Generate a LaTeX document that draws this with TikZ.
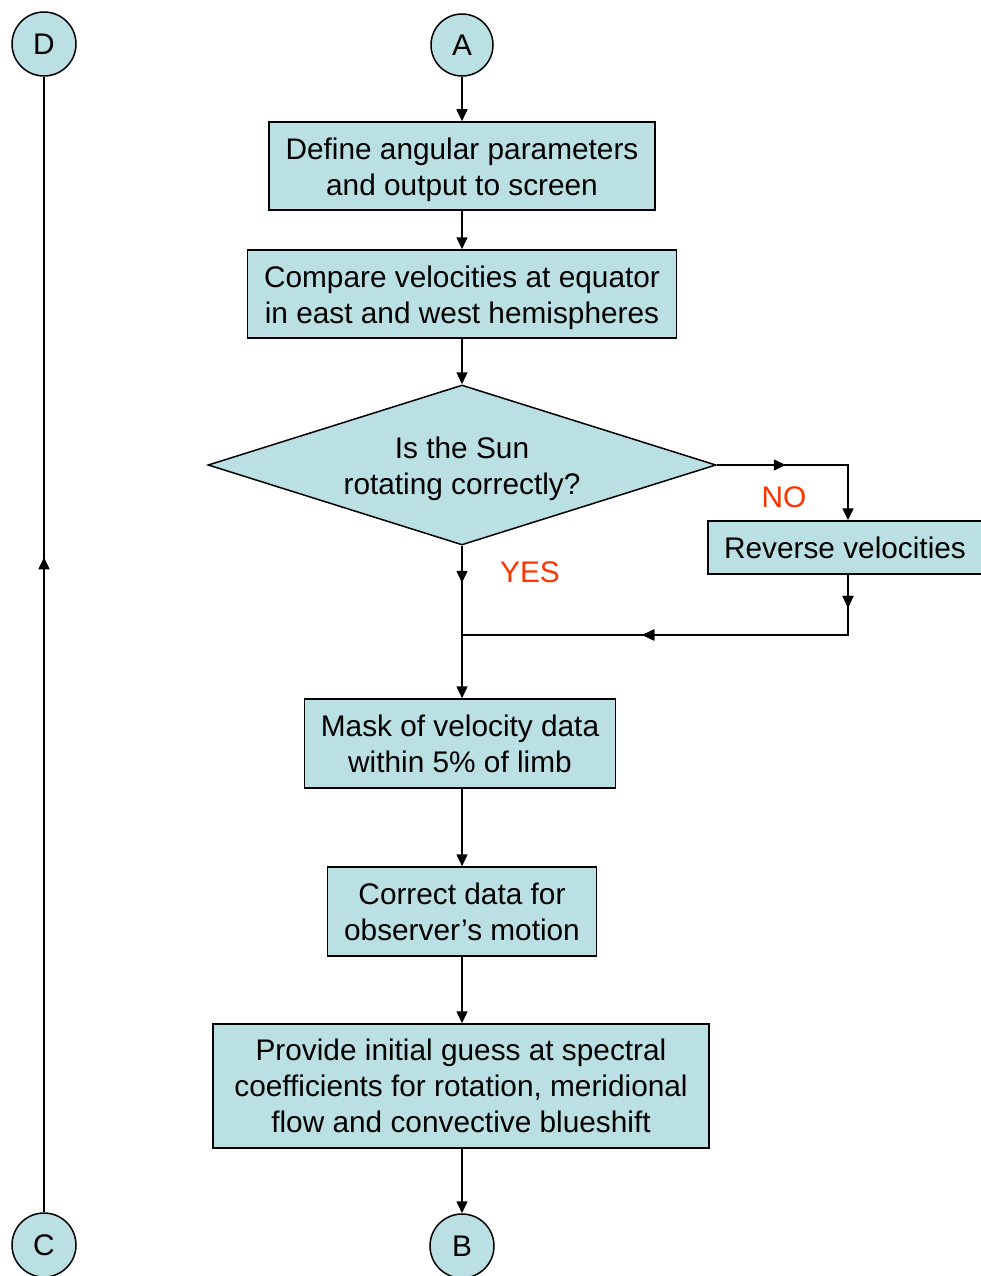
\documentclass[tikz,border=0pt]{standalone}
\usepackage{fontspec}
\setmainfont{Liberation Sans}
\usetikzlibrary{arrows.meta,shapes.geometric,decorations.markings}
\definecolor{boxfill}{RGB}{186,224,227}
\definecolor{labelred}{RGB}{255,51,0}
\tikzset{
  every picture/.style={line width=1.5pt},
  >={Triangle[length=12pt,width=11pt]},
  txt/.style={align=center, inner sep=0pt, font=\fontsize{29.8}{36}\selectfont},
  base/.style={txt, draw=black, fill=boxfill, line width=1.5pt},
  stepbox/.style={base, rectangle},
  connector/.style={base, circle},
  decision/.style={base, diamond, aspect=3.175},
  % text set a little below the centre of its shape
  lowtext/.style={label={[txt, yshift=-4pt]center:#1}},
  flow/.style={draw=black, line width=1.5pt},
  midtip/.style={decoration={markings, mark=at position #1 with {\arrow{>}}},
    postaction={decorate}},
  answer/.style={text=labelred, font=\fontsize{29.8}{36}\selectfont}
}
\begin{document}
\begin{tikzpicture}[x=1pt, y=-1pt]
\useasboundingbox (0,0) rectangle (981,1276);

% off-page connectors
\node[connector, minimum size=64pt] (D) at (44,44) {D};
\node[connector, minimum size=62pt] (A) at (462,45) {A};
\node[connector, minimum size=64pt] (C) at (44,1245) {C};
\node[connector, minimum size=64pt] (B) at (462,1246) {B};

% process steps
\node[stepbox, minimum width=386pt, minimum height=88pt,
  lowtext={Define angular parameters\\and output to screen}] (define) at (462,166) {};
\node[stepbox, minimum width=429pt, minimum height=88pt,
  lowtext={Compare velocities at equator\\in east and west hemispheres}] (compare) at (462,294) {};
\node[decision, minimum width=508pt, minimum height=160pt,
  lowtext={Is the Sun\\rotating correctly?}] (sun) at (462,465) {};
\node[stepbox, minimum width=274pt, minimum height=53pt] (reverse) at (845,547.5)
  {Reverse velocities};
\node[stepbox, minimum width=311pt, minimum height=89pt] (mask) at (460,743.5)
  {Mask of velocity data\\within 5\% of limb};
\node[stepbox, minimum width=269pt, minimum height=89pt] (correct) at (462,911.5)
  {Correct data for\\observer’s motion};
\node[stepbox, minimum width=496pt, minimum height=124pt] (guess) at (461,1086)
  {Provide initial guess at spectral\\coefficients for rotation, meridional\\flow and convective blueshift};

\coordinate (join) at (462,635);

% answers
\node[answer] (no) at (784,497) {NO};
\node[answer] (yes) at (530,572) {YES};

% connectors
\draw[flow,->] (A) -- (define);
\draw[flow,->] (define.south -| A) -- (compare.north -| A);
\draw[flow,->] (compare.south -| A) -- (sun.north);
\draw[flow,->,midtip=69pt] (sun.east) -| (reverse.north -| 848,0);
\draw[flow,midtip=33pt,midtip=266pt] (reverse.south -| 848,0) |- (join);
\draw[flow,->,midtip=37pt] (sun.south) -- (join) -- (mask.north -| A);
\draw[flow,->] (mask.south -| A) -- (correct.north -| A);
\draw[flow,->] (correct.south -| A) -- (guess.north -| A);
\draw[flow,->] (guess.south -| A) -- (B);
\draw[flow,midtip=655pt] (C) -- (D);
\end{tikzpicture}
\end{document}
